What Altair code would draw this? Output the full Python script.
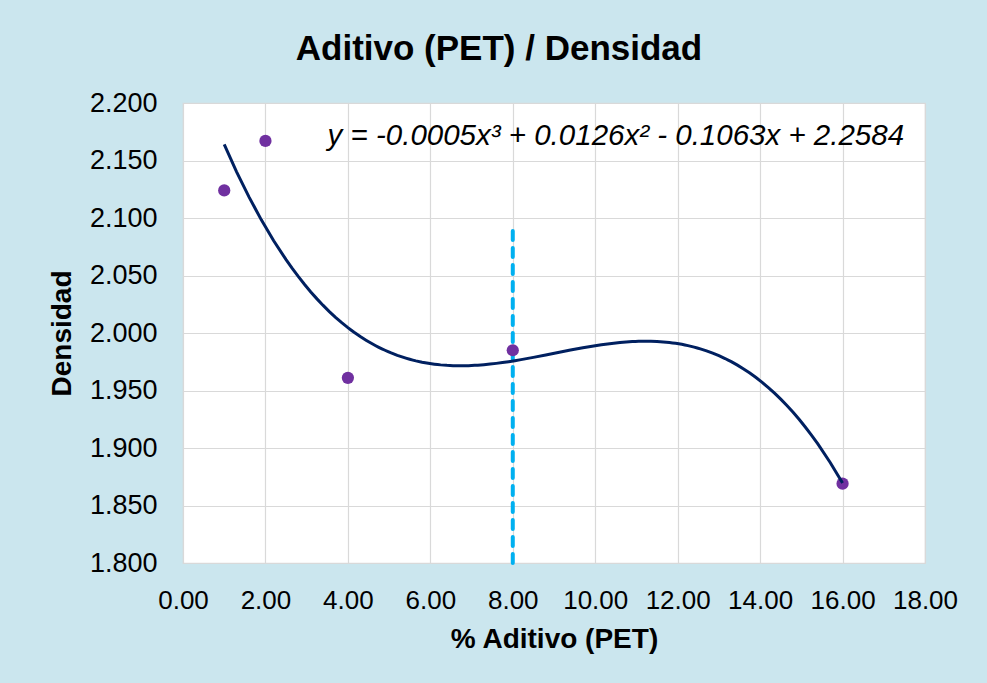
import altair as alt
import pandas as pd

# % PET additive vs. measured density
pct_pet = [1, 2, 4, 8, 16]
densidad = [2.124, 2.167, 1.961, 1.985, 1.869]

# axis ticks
x_ticks = [0, 2, 4, 6, 8, 10, 12, 14, 16, 18]
y_ticks = [1.80, 1.85, 1.90, 1.95, 2.00, 2.05, 2.10, 2.15, 2.20]

# dashed reference line at 8 % PET
ref_x = [8]
ref_y_low = [1.80]
ref_y_high = [2.094]

# trendline equation label and its anchor in data units
equation = ["y = -0.0005x³ + 0.0126x² - 0.1063x + 2.2584"]
eq_x = [10.5]
eq_y = [2.171]

FONT = "Liberation Sans"

points_df = pd.DataFrame({"pct": pct_pet, "dens": densidad})
ref_df = pd.DataFrame({"x": ref_x, "y1": ref_y_low, "y2": ref_y_high})
eq_df = pd.DataFrame({"x": eq_x, "y": eq_y, "label": equation})

x_scale = alt.Scale(domain=[0, 18], nice=False, zero=False)
y_scale = alt.Scale(domain=[1.8, 2.2], nice=False, zero=False)

x_axis = alt.Axis(
    values=x_ticks, format=".2f", title="% Aditivo (PET)",
    labelFontSize=26, labelFont=FONT, labelColor="black", labelPadding=24,
    labelOverlap=False, labelFlush=False,
    titleFontSize=28, titleFont=FONT, titleFontWeight="bold", titleColor="black",
    titlePadding=12, ticks=False, domain=False,
    grid=True, gridColor="#d9d9d9", gridWidth=1.2,
)
y_axis = alt.Axis(
    values=y_ticks, format=".3f", title="Densidad",
    labelFontSize=27, labelFont=FONT, labelColor="black", labelPadding=26,
    labelOverlap=False,
    titleFontSize=28, titleFont=FONT, titleFontWeight="bold", titleColor="black",
    titlePadding=13, ticks=False, domain=False,
    grid=True, gridColor="#d9d9d9", gridWidth=1.2,
)

ref_rule = alt.Chart(ref_df).mark_rule(
    color="#00B0F0", strokeWidth=4, strokeDash=[9, 8], strokeCap="round"
).encode(
    x=alt.X("x:Q", scale=x_scale, axis=x_axis),
    y=alt.Y("y1:Q", scale=y_scale, axis=y_axis),
    y2="y2:Q",
)

points = alt.Chart(points_df).mark_circle(
    size=150, color="#7030A0", opacity=1
).encode(
    x=alt.X("pct:Q", scale=x_scale),
    y=alt.Y("dens:Q", scale=y_scale),
)

trend = alt.Chart(points_df).transform_regression(
    "pct", "dens", method="poly", order=3
).mark_line(color="#002060", strokeWidth=3).encode(
    x=alt.X("pct:Q", scale=x_scale),
    y=alt.Y("dens:Q", scale=y_scale),
)

eq_text = alt.Chart(eq_df).mark_text(
    font=FONT, fontSize=29.5, fontStyle="italic", color="black",
    align="center", baseline="middle",
).encode(
    x=alt.X("x:Q", scale=x_scale),
    y=alt.Y("y:Q", scale=y_scale),
    text="label:N",
)

chart = alt.layer(ref_rule, points, trend, eq_text).properties(
    width=742,
    height=460,
    title=alt.TitleParams(
        "Aditivo (PET) / Densidad", font=FONT, fontSize=35, fontWeight="bold",
        color="black", anchor="middle", dx=-55, offset=22,
    ),
    autosize=alt.AutoSizeParams(type="none"),
    padding={"left": 183, "top": 103, "right": 62, "bottom": 120},
    background="#cbe6ee",
).configure_view(
    fill="white", stroke="#d9d9d9", strokeWidth=1.2
)

chart.save("out.html", embed_options={"renderer": "svg", "actions": False})
